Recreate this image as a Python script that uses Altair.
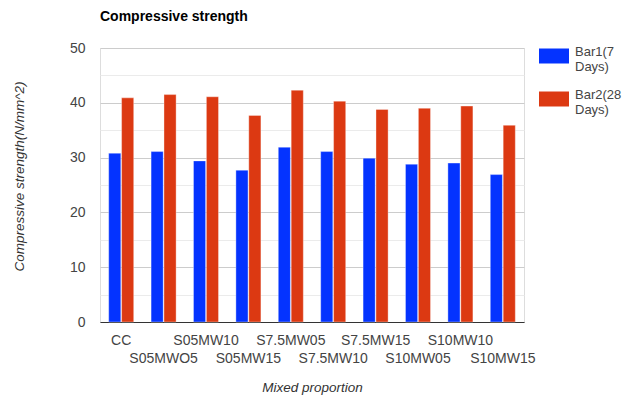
import altair as alt
import pandas as pd
import json

categories = ["CC", "S05MWO5", "S05MW10", "S05MW15", "S7.5MW05",
              "S7.5MW10", "S7.5MW15", "S10MW05", "S10MW10", "S10MW15"]
bar1_7days = [30.8, 31.1, 29.4, 27.7, 31.9, 31.1, 29.9, 28.8, 29.0, 26.9]
bar2_28days = [40.9, 41.5, 41.1, 37.7, 42.3, 40.3, 38.8, 39.0, 39.4, 35.9]
series_names = ["Bar1(7 Days)", "Bar2(28 Days)"]
series_colors = ["#0433ff", "#dc3912"]
y_ticks = [0, 5, 10, 15, 20, 25, 30, 35, 40, 45, 50]

rows = []
for c, a, b in zip(categories, bar1_7days, bar2_28days):
    rows.append({"cat": c, "series": series_names[0], "value": a})
    rows.append({"cat": c, "series": series_names[1], "value": b})
df = pd.DataFrame(rows)

FONT = "Liberation Sans"
second_row = json.dumps(categories[1::2])
label_expr_x = f"indexof({second_row}, datum.value) >= 0 ? ['', datum.value] : datum.value"
legend_label_expr = ("datum.label == 'Bar1(7 Days)' ? ['Bar1(7', 'Days)'] : "
                     "['Bar2(28', 'Days)']")

chart = alt.Chart(df).mark_bar(strokeWidth=1, strokeOpacity=0.35, stroke="white").encode(
    x=alt.X("cat:N", sort=categories,
            scale=alt.Scale(paddingInner=0.41, paddingOuter=0.205),
            axis=alt.Axis(title="Mixed proportion", labelAngle=0, ticks=False,
                          labelExpr=label_expr_x, labelFont=FONT, labelFontSize=14,
                          labelColor="#444444", labelPadding=11, labelLineHeight=18.5,
                          labelLimit=200,
                          domainColor="#333333", domainWidth=1,
                          titleFont=FONT, titleFontSize=13.5, titleFontStyle="italic",
                          titleFontWeight="normal", titleColor="#333333",
                          titleY=65, titleBaseline="middle")),
    xOffset=alt.XOffset("series:N", sort=series_names,
                        scale=alt.Scale(paddingInner=0.06)),
    y=alt.Y("value:Q", scale=alt.Scale(domain=[0, 50], nice=False),
            axis=alt.Axis(title="Compressive strength(N/mm^2)", values=y_ticks,
                          ticks=False, domain=False,
                          labelExpr="datum.value % 10 === 0 ? datum.label : ''",
                          labelFont=FONT, labelFontSize=14, labelColor="#444444",
                          labelPadding=15,
                          gridColor={"condition": {"test": "datum.value % 10 === 0",
                                                   "value": "#cccccc"},
                                     "value": "#ebebeb"},
                          gridWidth=1,
                          titleFont=FONT, titleFontSize=13.5, titleFontStyle="italic",
                          titleFontWeight="normal", titleColor="#333333",
                          titleX=-81, titleY=128, titleAngle=-90,
                          titleAlign="center", titleBaseline="middle")),
    color=alt.Color("series:N", sort=series_names,
                    scale=alt.Scale(domain=series_names, range=series_colors),
                    legend=alt.Legend(title=None, orient="none", legendX=439, legendY=-7,
                                      symbolType="M-1,-0.5H1V0.5H-1Z", symbolSize=900,
                                      symbolStrokeWidth=0, symbolOpacity=1,
                                      labelExpr=legend_label_expr, labelFont=FONT,
                                      labelFontSize=13, labelColor="#444444",
                                      labelBaseline="alphabetic",
                                      labelOffset=6, labelLimit=200, rowPadding=10,
                                      padding=0)),
).properties(
    width=424, height=274,
    title=alt.TitleParams("Compressive strength", anchor="start", frame="group",
                          font=FONT, fontSize=14, fontWeight="bold", color="#000000",
                          offset=17),
    autosize=alt.AutoSizeParams(type="none"),
    padding={"left": 100, "top": 48, "right": 101, "bottom": 74},
).configure_view(stroke=None).configure(background="white")

chart.save("out.html", embed_options={"renderer": "svg", "actions": False})
